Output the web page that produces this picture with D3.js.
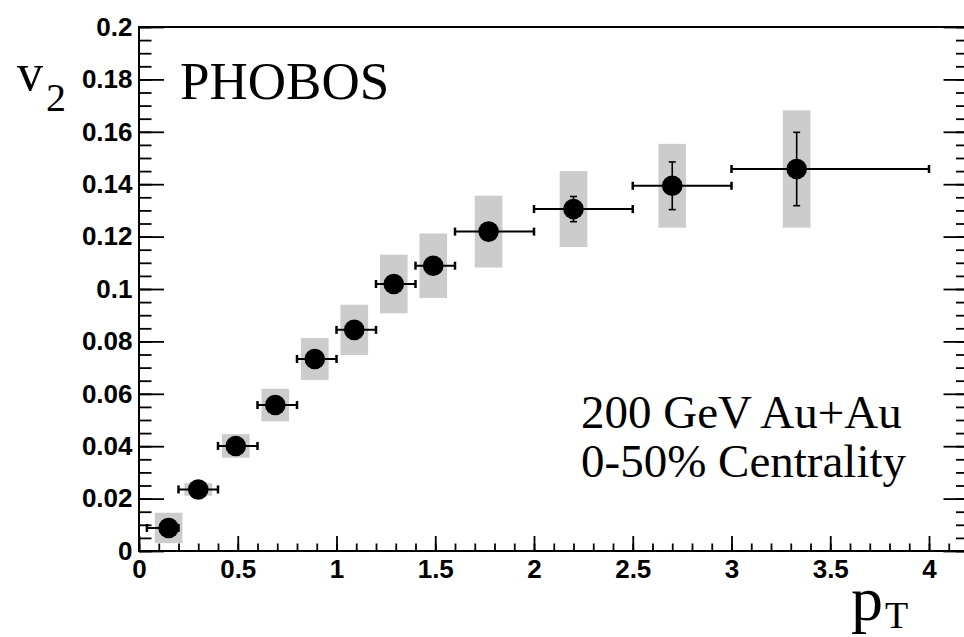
<!DOCTYPE html>
<html lang="en">
<head>
    <meta charset="UTF-8">
    <title>PHOBOS v2 vs pT</title>
    <script src="https://d3js.org/d3.v7.min.js"></script>
    <style>
        body { margin: 0; background: #fff; }
        svg { display: block; }
        .tick text { font-family: "Liberation Sans", Arial, sans-serif; font-weight: bold; font-size: 26px; fill: #000; }
        .tick line { stroke: #000; stroke-width: 1.8; }
        .serif { font-family: "Liberation Serif", "Times New Roman", serif; fill: #000; }
    </style>
</head>
<body>
    <script>
        // Data (200 GeV Au+Au, 0-50% centrality)
        const pt      = [0.15, 0.30, 0.49, 0.69, 0.89, 1.09, 1.29, 1.49, 1.77, 2.20, 2.70, 3.33];
        const ptLow   = [0.04, 0.2, 0.4, 0.6, 0.8, 1.0, 1.2, 1.4, 1.6, 2.0, 2.5, 3.0];
        const ptHigh  = [0.2, 0.4, 0.6, 0.8, 1.0, 1.2, 1.4, 1.6, 2.0, 2.5, 3.0, 4.0];
        const v2      = [0.0088, 0.0235, 0.0401, 0.0557, 0.0733, 0.0844, 0.1019, 0.1089, 0.1219, 0.1305, 0.1394, 0.1458];
        const statErr = [0.001, 0.001, 0.001, 0.001, 0.001, 0.001, 0.001, 0.001, 0.0015, 0.0048, 0.0091, 0.014];
        const sysErr  = [0.0058, 0.0024, 0.0045, 0.0062, 0.008, 0.0096, 0.0112, 0.0123, 0.0137, 0.0145, 0.016, 0.0224];

        const xMajorTicks = [0, 0.5, 1, 1.5, 2, 2.5, 3, 3.5, 4];
        const yMajorTicks = [0, 0.02, 0.04, 0.06, 0.08, 0.1, 0.12, 0.14, 0.16, 0.18, 0.2];
        const xLabels = ["0", "0.5", "1", "1.5", "2", "2.5", "3", "3.5", "4"];
        const yLabels = ["0", "0.02", "0.04", "0.06", "0.08", "0.1", "0.12", "0.14", "0.16", "0.18", "0.2"];

        const points = pt.map((x, i) => ({
            x, lo: ptLow[i], hi: ptHigh[i], y: v2[i], stat: statErr[i], sys: sysErr[i]
        }));

        // Layout (right edge of the frame runs just past the window, as in the original)
        const margin = { top: 27, left: 139 },
              width = 829.5,
              height = 524;

        const svg = d3.select("body").append("svg")
            .attr("width", 964)
            .attr("height", 637);

        const g = svg.append("g")
            .attr("transform", `translate(${margin.left},${margin.top})`);

        const x = d3.scaleLinear().domain([0, 4.2]).range([0, width]);
        const y = d3.scaleLinear().domain([0, 0.2]).range([height, 0]);

        const xMinor = d3.range(0, 4.2001, 0.1).map(d => +d.toFixed(2));
        const yMinor = d3.range(0, 0.2001, 0.005).map(d => +d.toFixed(3));

        // Bottom axis: ticks point into the frame
        g.append("g")
            .attr("transform", `translate(0,${height})`)
            .call(d3.axisBottom(x).tickValues(xMinor).tickSizeInner(-7.5).tickSizeOuter(0).tickFormat(""))
            .call(s => s.select(".domain").remove());
        g.append("g")
            .attr("transform", `translate(0,${height})`)
            .call(d3.axisBottom(x).tickValues(xMajorTicks).tickSizeInner(-15).tickSizeOuter(0)
                .tickPadding(9).tickFormat((d, i) => xLabels[i]))
            .call(s => s.select(".domain").remove());

        // Left axis
        g.append("g")
            .call(d3.axisLeft(y).tickValues(yMinor).tickSizeInner(-12.5).tickSizeOuter(0).tickFormat(""))
            .call(s => s.select(".domain").remove());
        g.append("g")
            .call(d3.axisLeft(y).tickValues(yMajorTicks).tickSizeInner(-25).tickSizeOuter(0)
                .tickPadding(6.5).tickFormat((d, i) => yLabels[i]))
            .call(s => s.select(".domain").remove());

        // Right axis (ticks only)
        g.append("g")
            .attr("transform", `translate(${width},0)`)
            .call(d3.axisRight(y).tickValues(yMinor).tickSizeInner(-12.5).tickSizeOuter(0).tickFormat(""))
            .call(s => s.select(".domain").remove());
        g.append("g")
            .attr("transform", `translate(${width},0)`)
            .call(d3.axisRight(y).tickValues(yMajorTicks).tickSizeInner(-25).tickSizeOuter(0).tickFormat(""))
            .call(s => s.select(".domain").remove());

        // Frame
        g.append("rect")
            .attr("width", width)
            .attr("height", height)
            .attr("fill", "none")
            .attr("stroke", "#000")
            .attr("stroke-width", 2);

        // Systematic error boxes
        const boxHalf = 0.07;
        g.selectAll(".sys")
            .data(points)
            .enter().append("rect")
            .attr("class", "sys")
            .attr("x", d => x(d.x - boxHalf))
            .attr("width", d => x(d.x + boxHalf) - x(d.x - boxHalf))
            .attr("y", d => y(d.y + d.sys))
            .attr("height", d => y(d.y - d.sys) - y(d.y + d.sys))
            .attr("fill", "#cccccc");

        // Horizontal bars (bin widths) with end caps
        const bars = g.selectAll(".bar")
            .data(points)
            .enter().append("g")
            .attr("class", "bar")
            .attr("stroke", "#000");

        bars.append("line")
            .attr("x1", d => x(d.lo)).attr("x2", d => x(d.hi))
            .attr("y1", d => y(d.y)).attr("y2", d => y(d.y))
            .attr("stroke-width", 2);
        bars.append("line")
            .attr("x1", d => x(d.lo)).attr("x2", d => x(d.lo))
            .attr("y1", d => y(d.y) - 4).attr("y2", d => y(d.y) + 4)
            .attr("stroke-width", 2.5);
        bars.append("line")
            .attr("x1", d => x(d.hi)).attr("x2", d => x(d.hi))
            .attr("y1", d => y(d.y) - 4).attr("y2", d => y(d.y) + 4)
            .attr("stroke-width", 2.5);

        // Vertical statistical bars
        bars.append("line")
            .attr("x1", d => x(d.x)).attr("x2", d => x(d.x))
            .attr("y1", d => y(d.y + d.stat)).attr("y2", d => y(d.y - d.stat))
            .attr("stroke-width", 1.6);
        bars.append("line")
            .attr("x1", d => x(d.x) - 3.5).attr("x2", d => x(d.x) + 3.5)
            .attr("y1", d => y(d.y + d.stat)).attr("y2", d => y(d.y + d.stat))
            .attr("stroke-width", 1.6);
        bars.append("line")
            .attr("x1", d => x(d.x) - 3.5).attr("x2", d => x(d.x) + 3.5)
            .attr("y1", d => y(d.y - d.stat)).attr("y2", d => y(d.y - d.stat))
            .attr("stroke-width", 1.6);

        // Markers
        g.selectAll(".dot")
            .data(points)
            .enter().append("circle")
            .attr("class", "dot")
            .attr("cx", d => x(d.x))
            .attr("cy", d => y(d.y))
            .attr("r", 10.3)
            .attr("fill", "#000");

        // Labels
        svg.append("text").attr("class", "serif")
            .attr("x", 180).attr("y", 99)
            .style("font-size", "53px")
            .text("PHOBOS");

        svg.append("text").attr("class", "serif")
            .attr("x", 581).attr("y", 428)
            .style("font-size", "47px")
            .text("200 GeV Au+Au");
        svg.append("text").attr("class", "serif")
            .attr("x", 581).attr("y", 477)
            .style("font-size", "47px")
            .text("0-50% Centrality");

        // y-axis title: v_2
        const yTitle = svg.append("text").attr("class", "serif")
            .attr("x", 17).attr("y", 90);
        yTitle.append("tspan").style("font-size", "52px").text("v");
        yTitle.append("tspan").attr("x", 46).attr("y", 111).style("font-size", "40px").text("2");

        // x-axis title: p_T (kept just inside the bottom edge)
        const xTitle = svg.append("text").attr("class", "serif")
            .attr("x", 851).attr("y", 620);
        xTitle.append("tspan").style("font-size", "64px").text("p");
        xTitle.append("tspan").attr("x", 885).attr("y", 628).style("font-size", "38px").text("T");
    </script>
</body>
</html>
